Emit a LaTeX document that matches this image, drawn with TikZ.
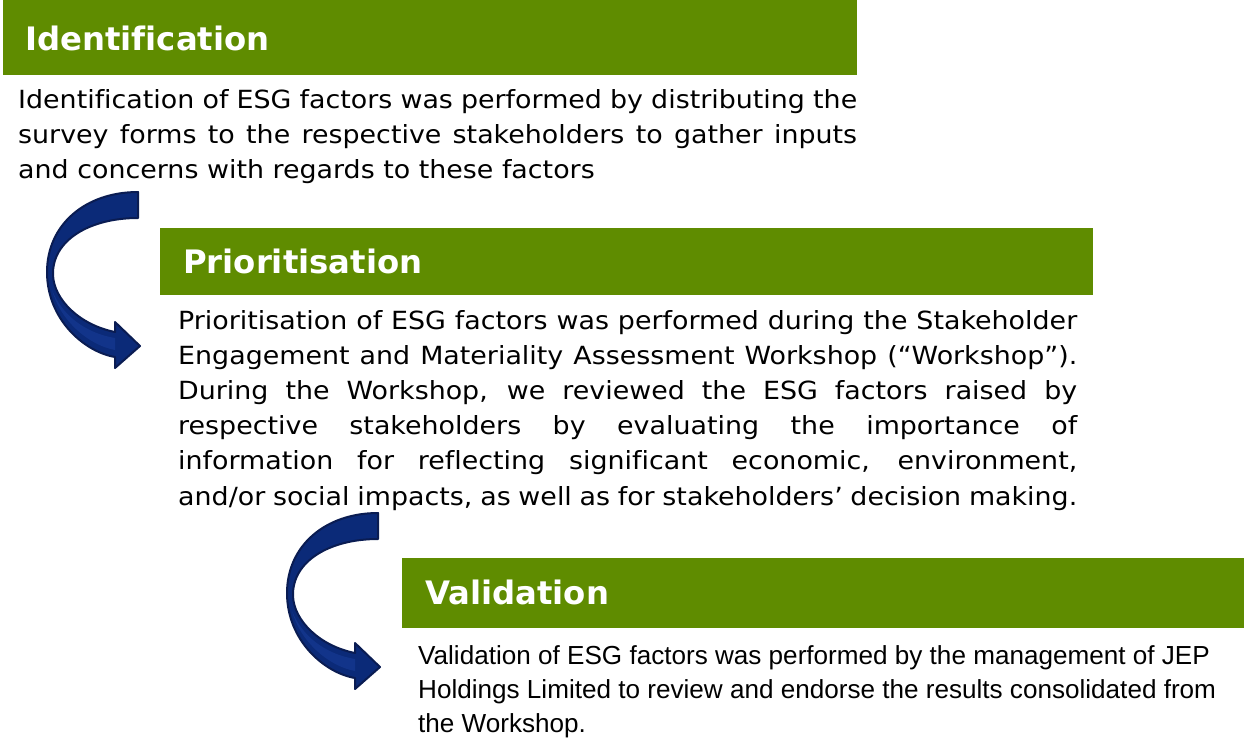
\documentclass[tikz,border=0pt]{standalone}
\usepackage{fontspec}
\setmainfont{DejaVu Sans}[Ligatures=NoCommon]
\newfontfamily\bodyfont{DejaVu Sans}[Ligatures=NoCommon, FakeStretch=1.075]
\newfontfamily\arialfont{Liberation Sans}
\definecolor{barg}{HTML}{5F8C00}
\definecolor{arrfill}{HTML}{0B2A78}
\definecolor{arrline}{HTML}{0A1C52}
\definecolor{arrlight}{HTML}{12348A}
\tikzset{
  bar/.style={fill=barg, draw=none},
  head/.style={anchor=base west, inner sep=0pt, text=white, font=\bfseries\fontsize{32.3}{36}\selectfont},
  body/.style={anchor=base west, inner sep=0pt, text=black},
  curvearrow/.style={fill=arrfill, draw=arrline, line width=2pt, line join=round}
}
\begin{document}
\begin{tikzpicture}[x=1pt,y=-1pt]
\useasboundingbox (0,0) rectangle (1244,740);
% bars
\path[bar] (3,0) rectangle (857,75);
\path[bar] (160,228) rectangle (1093,295);
\path[bar] (402,558) rectangle (1244,628);
\node[head] (h1) at (25,50) {Identification};
\node[head] (h2) at (183,273) {Prioritisation};
\node[head] (h3) at (425,604) {Validation};
% bodies
\node[body] (b1) at (18,108) {\parbox[t]{839pt}{\bodyfont\fontsize{25}{35}\selectfont
\makebox[839pt][s]{Identification of ESG factors was performed by distributing the}\\
\makebox[839pt][s]{survey forms to the respective stakeholders to gather inputs}\\
and concerns with regards to these factors}};
\node[body] (b2) at (178,329) {\parbox[t]{899pt}{\bodyfont\fontsize{25}{35.2}\selectfont
\makebox[899pt][s]{Prioritisation of ESG factors was performed during the Stakeholder}\\
\makebox[899pt][s]{Engagement and Materiality Assessment Workshop (“Workshop”).}\\
\makebox[899pt][s]{During the Workshop, we reviewed the ESG factors raised by}\\
\makebox[899pt][s]{respective stakeholders by evaluating the importance of}\\
\makebox[899pt][s]{information for reflecting significant economic, environment,}\\
and/or social impacts, as well as for stakeholders’ decision making.}};
\node[body] (b3) at (418,664) {\parbox[t]{826pt}{\arialfont\fontsize{26.1}{34}\selectfont
Validation of ESG factors was performed by the management of JEP\\
Holdings Limited to review and endorse the results consolidated from\\
the Workshop.}};
% curved arrows
\foreach \dx/\dy/\nm in {0/0/a1, 240/321/a2}{
\begin{scope}[shift={(\dx,\dy)}]
\path[curvearrow] (138,192) .. controls (85,192) and (47,225) .. (47,272)
  .. controls (47,320) and (85,352) .. (115,357)
  -- (115,368) -- (140,346) -- (115,322) -- (115,332)
  .. controls (80,325) and (54,300) .. (53,275)
  .. controls (52,240) and (90,218) .. (138,218) -- cycle;
\path[fill=arrlight] (52,290) .. controls (60,320) and (88,345) .. (115,350)
  -- (115,338) .. controls (85,333) and (62,315) .. (52,290) -- cycle;
\coordinate (\nm) at (140,346);
\end{scope}}
\end{tikzpicture}
\end{document}
